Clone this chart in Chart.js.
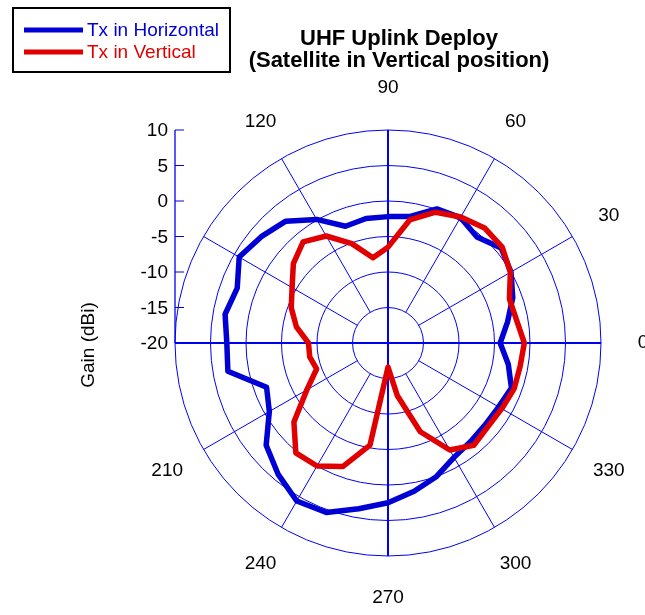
<!DOCTYPE html>
<html>
<head>
<meta charset="utf-8">
<script src="https://cdn.jsdelivr.net/npm/chart.js@4.4.0/dist/chart.umd.min.js"></script>
<style>
  html, body { margin: 0; padding: 0; background: #fff; }
  #wrap { position: relative; width: 645px; height: 615px; }
</style>
</head>
<body>
<div id="wrap"><canvas id="polar"></canvas></div>
<script>
// Measurement angles in degrees, counter-clockwise from the right
const angles = [0, 10, 20, 30, 40, 50, 60, 70, 80, 90, 100, 110,
  120, 130, 140, 150, 160, 170, 180, 190, 200, 210, 220, 230,
  240, 250, 260, 270, 280, 290, 300, 310, 320, 330, 340, 350];

// Gain (dBi) per angle
const horizontalGain = [-4.2, -2.9, -1.3, 0.0, 0.8, -0.5, 0.4, 0.1, -1.9, -2.2, -2.2, -2.5,
  0.1, 2.4, 3.3, 4.2, 2.6, 3.3, 2.7, 2.9, -1.8, -0.7, 2.4, 4.1,
  5.7, 5.4, 3.7, 2.5, 1.2, 0.0, -1.4, -1.9, -2.1, -2.0, -1.5, -2.8];
const verticalGain = [-0.8, -1.6, -1.8, -0.1, 1.0, 1.15, 0.5, -0.4, -2.4, -6.5, -7.8, -5.1,
  -2.6, -1.4, -2.6, -4.4, -5.5, -6.9, -8.8, -8.8, -9.3, -6.8, -2.7, 0.2,
  0.0, -1.5, -5.4, -16.6, -12.5, -6.7, -2.6, -1.2, -1.65, -1.5, -1.1, -1.1];

const gainTicks = [-20, -15, -10, -5, 0, 5, 10];
// 150 and 180 are hidden behind the gain axis in the original
const labelledAngles = [0, 30, 60, 90, 120, 210, 240, 270, 300, 330];

const FONT = "'Liberation Sans', Arial, sans-serif";
const BLUE = '#0000d4';
const RED = '#e00000';
const GRID = '#0000f0';

// Chart.js radar runs clockwise from startAngle, so feed the angles in reverse
const order = angles.map((a, i) => (angles.length - i) % angles.length);
const rLabels = order.map(i => angles[i]);
const rHorizontal = order.map(i => horizontalGain[i]);
const rVertical = order.map(i => verticalGain[i]);

// Spokes, centre axes and the left gain axis
const polarFrame = {
  id: 'polarFrame',
  beforeDatasetsDraw(chart) {
    const r = chart.scales.r;
    const ctx = chart.ctx;
    const R = r.drawingArea;
    const cx = r.xCenter, cy = r.yCenter;
    ctx.save();
    ctx.strokeStyle = GRID;
    ctx.lineWidth = 1;
    ctx.beginPath();
    rLabels.forEach((deg, i) => {
      if (deg % 30 !== 0 || deg % 90 === 0) return;
      const a = r.getPointPosition(i, r.getDistanceFromCenterForValue(-15));
      const b = r.getPointPosition(i, R);
      ctx.moveTo(a.x, a.y);
      ctx.lineTo(b.x, b.y);
    });
    ctx.stroke();

    ctx.lineWidth = 2;
    ctx.beginPath();
    ctx.moveTo(cx - R, cy); ctx.lineTo(cx + R, cy);
    ctx.moveTo(cx, cy - R); ctx.lineTo(cx, cy + R);
    ctx.stroke();

    // gain axis on the left
    const ax = cx - R;
    ctx.lineWidth = 1.3;
    ctx.beginPath();
    ctx.moveTo(ax, cy); ctx.lineTo(ax, cy - R);
    ctx.stroke();
    ctx.lineWidth = 1;
    ctx.beginPath();
    gainTicks.forEach(v => {
      const y = cy - r.getDistanceFromCenterForValue(v);
      ctx.moveTo(ax, y); ctx.lineTo(ax + 9, y);
    });
    ctx.stroke();
    ctx.restore();
  },
  afterDraw(chart) {
    const r = chart.scales.r;
    const ctx = chart.ctx;
    const cx = r.xCenter, cy = r.yCenter;
    ctx.save();
    ctx.fillStyle = '#000';
    ctx.font = '19px ' + FONT;

    // angle labels
    ctx.textAlign = 'center';
    ctx.textBaseline = 'middle';
    rLabels.forEach((deg, i) => {
      if (!labelledAngles.includes(deg)) return;
      const p = r.getPointPosition(i, 255);
      ctx.fillText(String(deg), p.x, p.y);
    });

    // gain tick labels
    ctx.textAlign = 'right';
    gainTicks.forEach(v => {
      const y = cy - r.getDistanceFromCenterForValue(v);
      ctx.fillText(String(v), cx - r.drawingArea - 7, y + 1);
    });

    // axis title
    ctx.save();
    ctx.translate(89, 345);
    ctx.rotate(-Math.PI / 2);
    ctx.textAlign = 'center';
    ctx.fillText('Gain (dBi)', 0, 0);
    ctx.restore();

    // chart title
    ctx.textAlign = 'center';
    ctx.textBaseline = 'alphabetic';
    ctx.font = 'bold 22px ' + FONT;
    ctx.fillText('UHF Uplink Deploy', 399, 45);
    ctx.fillText('(Satellite in Vertical position)', 399, 67);

    // legend box
    ctx.strokeStyle = '#000';
    ctx.lineWidth = 2;
    ctx.strokeRect(13, 8, 217, 64);
    ctx.lineWidth = 5;
    ctx.font = '19px ' + FONT;
    ctx.textAlign = 'left';
    ctx.textBaseline = 'middle';
    [[BLUE, 'Tx in Horizontal', 30], [RED, 'Tx in Vertical', 52]].forEach(([c, t, y]) => {
      ctx.strokeStyle = c;
      ctx.beginPath();
      ctx.moveTo(24, y); ctx.lineTo(83, y);
      ctx.stroke();
      ctx.fillStyle = c;
      ctx.fillText(t, 87, y + 1);
    });
    ctx.restore();
  }
};

new Chart(document.getElementById('polar'), {
  type: 'radar',
  data: {
    labels: rLabels,
    datasets: [
      {
        label: 'Tx in Horizontal',
        data: rHorizontal,
        borderColor: BLUE,
        borderWidth: 5.5,
        borderJoinStyle: 'round',
        pointRadius: 0,
        fill: false,
        order: 1
      },
      {
        label: 'Tx in Vertical',
        data: rVertical,
        borderColor: RED,
        borderWidth: 5.5,
        borderJoinStyle: 'round',
        pointRadius: 0,
        fill: false,
        order: 0
      }
    ]
  },
  options: {
    responsive: true,
    maintainAspectRatio: false,
    animation: false,
    layout: { padding: { left: 175, top: 130, right: 44, bottom: 59 } },
    plugins: {
      legend: { display: false },
      title: { display: false },
      tooltip: { enabled: false }
    },
    scales: {
      r: {
        min: -20,
        max: 10,
        startAngle: 90,
        ticks: { display: false, stepSize: 5 },
        grid: { circular: true, color: GRID, lineWidth: 1 },
        angleLines: { display: false },
        pointLabels: { display: false }
      }
    }
  },
  plugins: [polarFrame]
});
</script>
</body>
</html>
